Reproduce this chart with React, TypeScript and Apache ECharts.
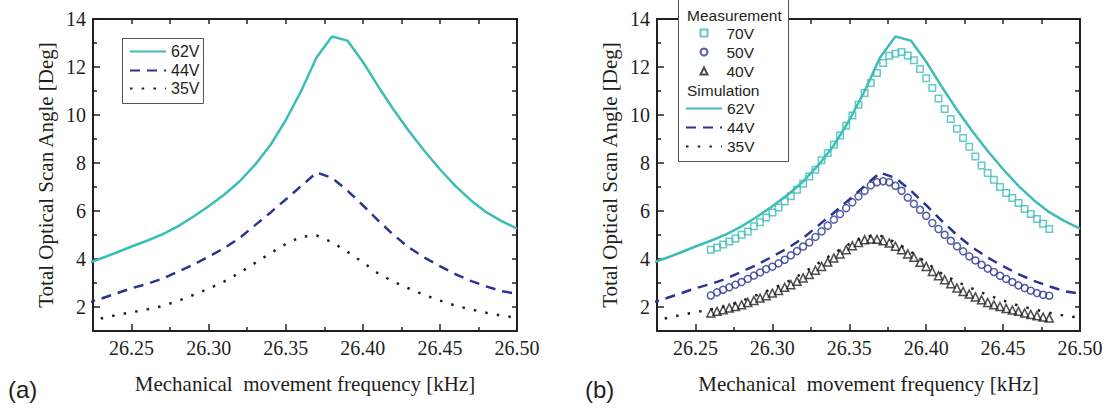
import React, { useEffect, useRef } from "react";
import * as echarts from "echarts";

// ---------- data ----------
const simNames = ["62V", "44V", "35V"];
const measNames = ["70V", "50V", "40V"];

const simFreq = [
  26.22, 26.23, 26.24, 26.25, 26.26, 26.27, 26.28, 26.29, 26.3, 26.31,
  26.32, 26.33, 26.34, 26.35, 26.36, 26.37, 26.38, 26.39, 26.4, 26.41,
  26.42, 26.43, 26.44, 26.45, 26.46, 26.47, 26.48, 26.49, 26.5,
];
const sim62V = [
  3.8, 4.02, 4.26, 4.52, 4.76, 5.03, 5.36, 5.76, 6.2, 6.68,
  7.23, 7.92, 8.74, 9.78, 11.0, 12.4, 13.27, 13.1, 12.22, 11.19,
  10.22, 9.32, 8.5, 7.74, 7.05, 6.45, 5.95, 5.58, 5.27,
];
const sim44V = [
  2.15, 2.34, 2.56, 2.78, 2.96, 3.18, 3.47, 3.76, 4.1, 4.45,
  4.87, 5.4, 5.93, 6.48, 7.04, 7.6, 7.38, 6.85, 6.24, 5.6,
  5.0, 4.48, 4.06, 3.7, 3.37, 3.09, 2.86, 2.66, 2.55,
];
const sim35V = [
  null, 1.52, 1.66, 1.78, 1.9, 2.04, 2.25, 2.5, 2.76, 3.06,
  3.42, 3.83, 4.24, 4.62, 4.93, 4.98, 4.7, 4.3, 3.86, 3.4,
  3.05, 2.77, 2.5, 2.27, 2.06, 1.9, 1.76, 1.64, 1.55,
];

const measFreq = [
  26.26, 26.264, 26.268, 26.272, 26.276, 26.28, 26.284, 26.288, 26.292, 26.296,
  26.3, 26.304, 26.308, 26.312, 26.316, 26.32, 26.324, 26.328, 26.332, 26.336,
  26.34, 26.344, 26.348, 26.352, 26.356, 26.36, 26.364, 26.368, 26.372, 26.376,
  26.38, 26.384, 26.388, 26.392, 26.396, 26.4, 26.404, 26.408, 26.412, 26.416,
  26.42, 26.424, 26.428, 26.432, 26.436, 26.44, 26.444, 26.448, 26.452, 26.456,
  26.46, 26.464, 26.468, 26.472, 26.476, 26.48,
];
const meas70V = [
  4.39, 4.48, 4.6, 4.73, 4.85, 5.01, 5.15, 5.36, 5.53, 5.73,
  5.94, 6.15, 6.4, 6.61, 6.89, 7.14, 7.44, 7.72, 8.11, 8.42,
  8.76, 9.15, 9.55, 9.98, 10.43, 10.92, 11.33, 11.75, 12.17, 12.47,
  12.55, 12.62, 12.48, 12.28, 11.92, 11.53, 11.12, 10.69, 10.25, 9.83,
  9.43, 9.04, 8.68, 8.27, 7.9, 7.58, 7.3, 7.0, 6.75, 6.54,
  6.33, 6.08, 5.87, 5.67, 5.47, 5.25,
];
const meas50V = [
  2.48, 2.61, 2.72, 2.82, 2.93, 3.04, 3.17, 3.31, 3.44, 3.58,
  3.68, 3.82, 3.97, 4.15, 4.33, 4.52, 4.69, 4.92, 5.15, 5.39,
  5.64, 5.87, 6.12, 6.36, 6.61, 6.84, 7.07, 7.2, 7.24, 7.2,
  7.05, 6.84, 6.56, 6.3, 6.05, 5.8, 5.5, 5.25, 5.01, 4.76,
  4.53, 4.32, 4.11, 3.94, 3.76, 3.6, 3.46, 3.3, 3.17, 3.04,
  2.9, 2.79, 2.68, 2.58, 2.51, 2.47,
];
const meas40V = [
  1.75, 1.82, 1.89, 1.96, 2.02, 2.09, 2.19, 2.27, 2.37, 2.47,
  2.58, 2.69, 2.82, 2.93, 3.07, 3.21, 3.35, 3.53, 3.69, 3.87,
  4.04, 4.21, 4.39, 4.55, 4.69, 4.8, 4.83, 4.82, 4.76, 4.67,
  4.53, 4.39, 4.21, 4.07, 3.86, 3.69, 3.48, 3.3, 3.14, 2.97,
  2.79, 2.65, 2.54, 2.42, 2.3, 2.19, 2.09, 2.02, 1.94, 1.87,
  1.82, 1.75, 1.69, 1.64, 1.58, 1.54,
];

const xMajorTicks = [26.25, 26.3, 26.35, 26.4, 26.45, 26.5];
const xMinorTicks = [26.275, 26.325, 26.375, 26.425, 26.475];
const xAllTicks = [26.25, 26.275, 26.3, 26.325, 26.35, 26.375, 26.4, 26.425, 26.45, 26.475];
const yMajorTicks = [2, 4, 6, 8, 10, 12, 14];
const yMinorTicks = [3, 5, 7, 9, 11, 13];
const yAllTicks = [2, 3, 4, 5, 6, 7, 8, 9, 10, 11, 12, 13];

const xTitle = "Mechanical  movement frequency [kHz]";
const yTitle = "Total Optical Scan Angle [Deg]";

// ---------- styles ----------
const ink = "#231f20";
const cyan = "#3dbdb7";
const navy = "#2b3590";
const serif = "Liberation Serif";
const sans = "Liberation Sans";
const X_MIN = 26.225;
const X_MAX = 26.5;
const Y_MIN = 1;
const Y_MAX = 14;

function makeXAxes(gridIndex: number) {
  const base = { type: "value", gridIndex, min: X_MIN, max: X_MAX, splitLine: { show: false } };
  return [
    {
      ...base,
      position: "bottom",
      axisLine: { show: true, onZero: false, lineStyle: { color: ink, width: 2 } },
      axisTick: { show: true, inside: true, length: 7, customValues: xMajorTicks, lineStyle: { color: ink, width: 1.5 } },
      axisLabel: {
        show: true,
        customValues: xMajorTicks,
        formatter: (v: number) => v.toFixed(2),
        margin: 7,
        fontFamily: serif,
        fontSize: 20,
        color: ink,
      },
      name: xTitle,
      nameLocation: "middle",
      nameGap: 42,
      nameTextStyle: { fontFamily: serif, fontSize: 21, color: ink },
    },
    {
      ...base,
      position: "bottom",
      axisLine: { show: false, onZero: false },
      axisTick: { show: true, inside: true, length: 4, customValues: xMinorTicks, lineStyle: { color: ink, width: 1.5 } },
      axisLabel: { show: false },
    },
    {
      ...base,
      position: "top",
      axisLine: { show: true, onZero: false, lineStyle: { color: ink, width: 2 } },
      axisTick: { show: true, inside: true, length: 5, customValues: xAllTicks, lineStyle: { color: ink, width: 1.5 } },
      axisLabel: { show: false },
    },
  ];
}

function makeYAxes(gridIndex: number) {
  const base = { type: "value", gridIndex, min: Y_MIN, max: Y_MAX, splitLine: { show: false } };
  return [
    {
      ...base,
      position: "left",
      axisLine: { show: true, onZero: false, lineStyle: { color: ink, width: 2 } },
      axisTick: { show: true, inside: true, length: 7, customValues: yMajorTicks, lineStyle: { color: ink, width: 1.5 } },
      axisLabel: {
        show: true,
        customValues: yMajorTicks,
        margin: 7,
        fontFamily: serif,
        fontSize: 20,
        color: ink,
      },
      name: yTitle,
      nameLocation: "middle",
      nameGap: 37,
      nameTextStyle: { fontFamily: serif, fontSize: 21, color: ink },
    },
    {
      ...base,
      position: "left",
      axisLine: { show: false, onZero: false },
      axisTick: { show: true, inside: true, length: 4, customValues: yMinorTicks, lineStyle: { color: ink, width: 1.5 } },
      axisLabel: { show: false },
    },
    {
      ...base,
      position: "right",
      axisLine: { show: true, onZero: false, lineStyle: { color: ink, width: 2 } },
      axisTick: { show: true, inside: true, length: 5, customValues: yAllTicks, lineStyle: { color: ink, width: 1.5 } },
      axisLabel: { show: false },
    },
  ];
}

const simValues = [sim62V, sim44V, sim35V];
const simColors = [cyan, navy, ink];
const simDash: any[] = ["solid", [10, 7], [2.5, 9.2]];

function simSeries(axisIndex: number) {
  return simNames.map((name, k) => ({
    type: "line",
    name,
    xAxisIndex: axisIndex,
    yAxisIndex: axisIndex,
    symbol: "none",
    showSymbol: false,
    silent: true,
    emphasis: { disabled: true },
    z: 3,
    data: simFreq.map((f, i) => [f, simValues[k][i]]),
    itemStyle: { color: simColors[k] },
    lineStyle: { color: simColors[k], width: 2.5, type: simDash[k] },
  }));
}

const measValues = [meas70V, meas50V, meas40V];
const measColors = [cyan, navy, ink];
const measSymbols = ["rect", "circle", "triangle"];
const measSizes = [6.5, 7, 8];

function measSeries(axisIndex: number) {
  return measNames.map((name, k) => ({
    type: "scatter",
    name,
    xAxisIndex: axisIndex,
    yAxisIndex: axisIndex,
    silent: true,
    emphasis: { disabled: true },
    z: 2,
    symbol: measSymbols[k],
    symbolSize: measSizes[k],
    data: measFreq.map((f, i) => [f, measValues[k][i]]),
    itemStyle: { color: "transparent", borderColor: measColors[k], borderWidth: 1.5 },
  }));
}

// one legend component per row, so that each row sits exactly where it should
function lineLegendRow(name: string, left: number, centerY: number, fontSize: number) {
  return {
    orient: "vertical",
    left,
    top: centerY - 8.5,
    padding: 0,
    itemWidth: 36,
    itemHeight: 20,
    itemGap: 0,
    selectedMode: false,
    data: [name],
    itemStyle: { opacity: 0 },
    textStyle: { fontFamily: sans, fontSize, color: ink },
    z: 6,
  };
}
function symbolLegendRow(name: string, left: number, centerY: number) {
  return {
    orient: "vertical",
    left,
    top: centerY - 8,
    padding: 0,
    itemWidth: 7,
    itemHeight: 7,
    itemGap: 0,
    selectedMode: false,
    data: [name],
    textStyle: { fontFamily: sans, fontSize: 15.5, color: ink, padding: [0, 0, 0, 14] },
    z: 6,
  };
}

const leftRowsY = [52, 71, 89];
const measRowsY = [33, 52, 71];
const simRowsY = [109, 128, 147];

const option = {
  animation: false,
  backgroundColor: "#fff",
  grid: [
    { left: 93, top: 19, width: 424, height: 312, containLabel: false },
    { left: 657, top: 19, width: 423, height: 312, containLabel: false },
  ],
  xAxis: [...makeXAxes(0), ...makeXAxes(1)],
  yAxis: [...makeYAxes(0), ...makeYAxes(1)],
  legend: [
    ...simNames.map((n, k) => lineLegendRow(n, 129, leftRowsY[k], 16)),
    ...measNames.map((n, k) => symbolLegendRow(n, 699.5, measRowsY[k])),
    ...simNames.map((n, k) => lineLegendRow(n, 685, simRowsY[k], 15.5)),
  ],
  graphic: [
    {
      type: "rect",
      z: 5,
      shape: { x: 122.5, y: 38.5, width: 81, height: 65 },
      style: { fill: "#fff", stroke: "#555", lineWidth: 1 },
    },
    {
      type: "rect",
      z: 5,
      shape: { x: 678.5, y: -1.5, width: 110, height: 163 },
      style: { fill: "#fff", stroke: "#555", lineWidth: 1 },
    },
    {
      type: "text",
      z: 6,
      x: 687,
      y: 15,
      style: { text: "Measurement", fontFamily: sans, fontSize: 15.5, fill: ink, verticalAlign: "middle" },
    },
    {
      type: "text",
      z: 6,
      x: 687,
      y: 90,
      style: { text: "Simulation", fontFamily: sans, fontSize: 15.5, fill: ink, verticalAlign: "middle" },
    },
    {
      type: "text",
      x: 8,
      y: 389,
      style: { text: "(a)", fontFamily: sans, fontSize: 24, fill: ink, verticalAlign: "middle" },
    },
    {
      type: "text",
      x: 585,
      y: 389,
      style: { text: "(b)", fontFamily: sans, fontSize: 24, fill: ink, verticalAlign: "middle" },
    },
  ],
  series: [...simSeries(0), ...measSeries(3), ...simSeries(3)],
};

export default function App() {
  const ref = useRef<HTMLDivElement>(null);
  useEffect(() => {
    if (!ref.current) return;
    const chart = echarts.init(ref.current, null, { renderer: "svg" });
    chart.setOption(option as any);
    return () => chart.dispose();
  }, []);
  return (
    <div
      ref={ref}
      style={{ position: "fixed", left: 0, top: 0, width: 1115, height: 410, background: "#fff" }}
    />
  );
}
